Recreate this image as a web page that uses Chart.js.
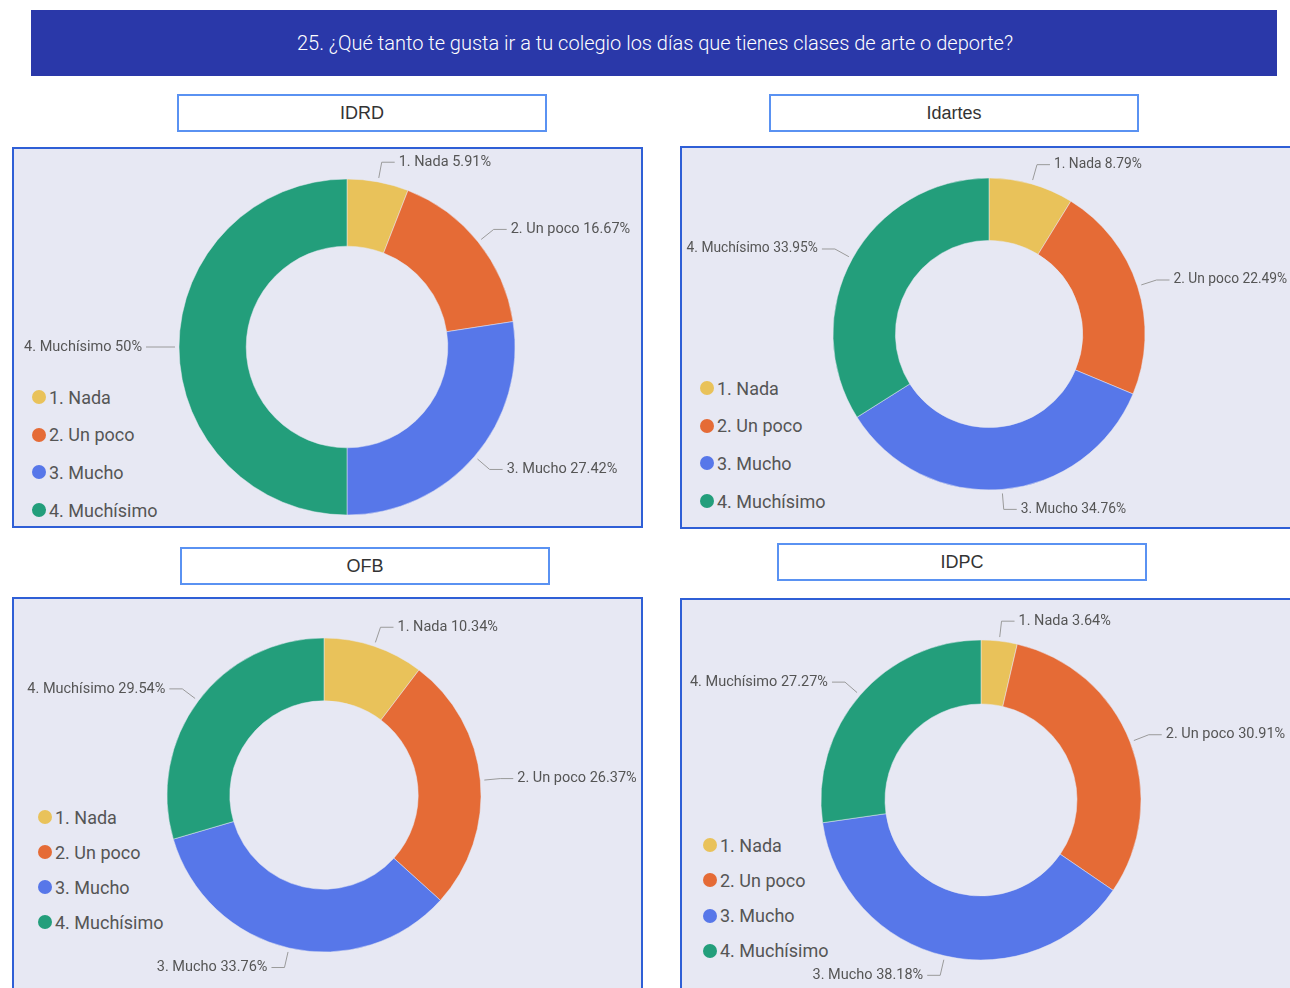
<!DOCTYPE html>
<html>
<head>
<meta charset="utf-8">
<script src="https://cdn.jsdelivr.net/npm/chart.js@4.4.1/dist/chart.umd.min.js"></script>
<style>
  html, body { margin:0; padding:0; background:#ffffff; width:1290px; height:988px; overflow:hidden; }
  body { position:relative; font-family: Roboto, "Noto Sans", sans-serif; }
  .banner { position:absolute; left:31px; top:10px; width:1246px; height:66px; background:#2a38a9;
    color:#ffffff; font-size:20px; font-weight:300; display:flex; align-items:center; justify-content:center; }
  .banner span { display:inline-block; padding-left:2px; }
  .hdr { position:absolute; box-sizing:border-box; height:38px; width:370px; border:2px solid #5a92f2; background:#fff;
    font-family: "Liberation Sans", Arial, sans-serif; font-size:18px; color:#333; display:flex; align-items:center; justify-content:center; }
  .panel { position:absolute; box-sizing:border-box; background:#e7e8f3; border:2px solid #2f5fd6; }
  canvas.chart { position:absolute; left:0; top:0; }
  .legend { position:absolute; font-family: Roboto, sans-serif; font-size:18px; color:#555; }
  .legend .item { position:absolute; left:0; white-space:nowrap; display:flex; align-items:center; height:20px; }
  .legend .dot { width:14px; height:14px; border-radius:50%; margin-right:3px; display:inline-block; }
</style>
</head>
<body>
<div class="banner"><span id="bannerText"></span></div>
<div id="root"></div>
<canvas class="chart" id="c0" width="1290" height="988"></canvas>
<canvas class="chart" id="c1" width="1290" height="988"></canvas>
<canvas class="chart" id="c2" width="1290" height="988"></canvas>
<canvas class="chart" id="c3" width="1290" height="988"></canvas>
<script>
// ---- data ----
const questionTitle = '25. ¿Qué tanto te gusta ir a tu colegio los días que tienes clases de arte o deporte?';
const categories = ['1. Nada', '2. Un poco', '3. Mucho', '4. Muchísimo'];
const panelTitles = ['IDRD', 'Idartes', 'OFB', 'IDPC'];
const idrdValues = [5.91, 16.67, 27.42, 50];
const idartesValues = [8.79, 22.49, 34.76, 33.95];
const ofbValues = [10.34, 26.37, 33.76, 29.54];
const idpcValues = [3.64, 30.91, 38.18, 27.27];
const seriesValues = [idrdValues, idartesValues, ofbValues, idpcValues];

// ---- styles / layout ----
const sliceColors = ['#e9c25a', '#e56b36', '#5777e9', '#239e7b'];
const layouts = [
  { hdr:[177,94], panel:[12,147,631,381], cx:347, cy:347, r:168, legend:[32,397,37.7], fs:14.5 },
  { hdr:[769,94], panel:[680,146,640,383], cx:989, cy:334, r:156, legend:[700,388,37.7], fs:13.8 },
  { hdr:[180,547], panel:[12,597,631,420], cx:324, cy:795, r:157, legend:[38,817,35], fs:14.5 },
  { hdr:[777,543], panel:[680,598,640,420], cx:981, cy:800, r:160, legend:[703,845,35.3], fs:14.5 }
];

document.getElementById('bannerText').textContent = questionTitle;
const root = document.getElementById('root');

layouts.forEach((L, i) => {
  const h = document.createElement('div');
  h.className = 'hdr';
  h.style.left = L.hdr[0] + 'px'; h.style.top = L.hdr[1] + 'px';
  h.textContent = panelTitles[i];
  root.appendChild(h);
  const p = document.createElement('div');
  p.className = 'panel';
  p.style.left = L.panel[0] + 'px'; p.style.top = L.panel[1] + 'px';
  p.style.width = L.panel[2] + 'px'; p.style.height = L.panel[3] + 'px';
  root.appendChild(p);
  const lg = document.createElement('div');
  lg.className = 'legend';
  lg.style.left = L.legend[0] + 'px'; lg.style.top = '0px';
  categories.forEach((c, k) => {
    const it = document.createElement('div');
    it.className = 'item';
    it.style.top = (L.legend[1] + k * L.legend[2] - 10) + 'px';
    const d = document.createElement('span');
    d.className = 'dot'; d.style.background = sliceColors[k];
    it.appendChild(d);
    const t = document.createElement('span');
    t.textContent = c;
    it.appendChild(t);
    lg.appendChild(it);
  });
  root.appendChild(lg);
});

const leaderPlugin = {
  id: 'leaderLabels',
  afterDatasetsDraw(chart, args, opts) {
    const ctx = chart.ctx;
    const meta = chart.getDatasetMeta(0);
    const vals = chart.data.datasets[0].data;
    ctx.save();
    ctx.font = opts.size + 'px Roboto, sans-serif';
    ctx.textBaseline = 'middle';
    meta.data.forEach((arc, k) => {
      const p = arc.getProps(['x','y','startAngle','endAngle','outerRadius'], true);
      const mid = (p.startAngle + p.endAngle) / 2;
      const cos = Math.cos(mid), sin = Math.sin(mid);
      const r0 = p.outerRadius + 4, r1 = p.outerRadius + 20;
      const x0 = p.x + cos * r0, y0 = p.y + sin * r0;
      const x1 = p.x + cos * r1, y1 = p.y + sin * r1;
      const dir = cos >= 0 ? 1 : -1;
      const x2 = x1 + dir * 13;
      ctx.strokeStyle = '#9a9a9a';
      ctx.lineWidth = 1;
      ctx.beginPath();
      ctx.moveTo(x0, y0); ctx.lineTo(x1, y1); ctx.lineTo(x2, y1);
      ctx.stroke();
      ctx.fillStyle = '#555555';
      ctx.textAlign = dir > 0 ? 'left' : 'right';
      ctx.fillText(chart.data.labels[k] + ' ' + vals[k] + '%', x2 + dir * 4, y1);
    });
    ctx.restore();
  }
};

layouts.forEach((L, i) => {
  const W = 1290, H = 988;
  new Chart(document.getElementById('c' + i), {
    type: 'doughnut',
    data: {
      labels: categories,
      datasets: [{
        data: seriesValues[i],
        backgroundColor: sliceColors,
        borderColor: '#e7e8f3',
        borderWidth: 0.5,
        hoverOffset: 0
      }]
    },
    options: {
      responsive: false,
      animation: false,
      devicePixelRatio: 1,
      cutout: '60%',
      radius: L.r,
      layout: { padding: { left: L.cx - L.r, right: W - L.cx - L.r, top: L.cy - L.r, bottom: H - L.cy - L.r } },
      plugins: { legend: { display: false }, tooltip: { enabled: false }, leaderLabels: { size: L.fs } },
      events: []
    },
    plugins: [leaderPlugin]
  });
});
</script>
</body>
</html>
